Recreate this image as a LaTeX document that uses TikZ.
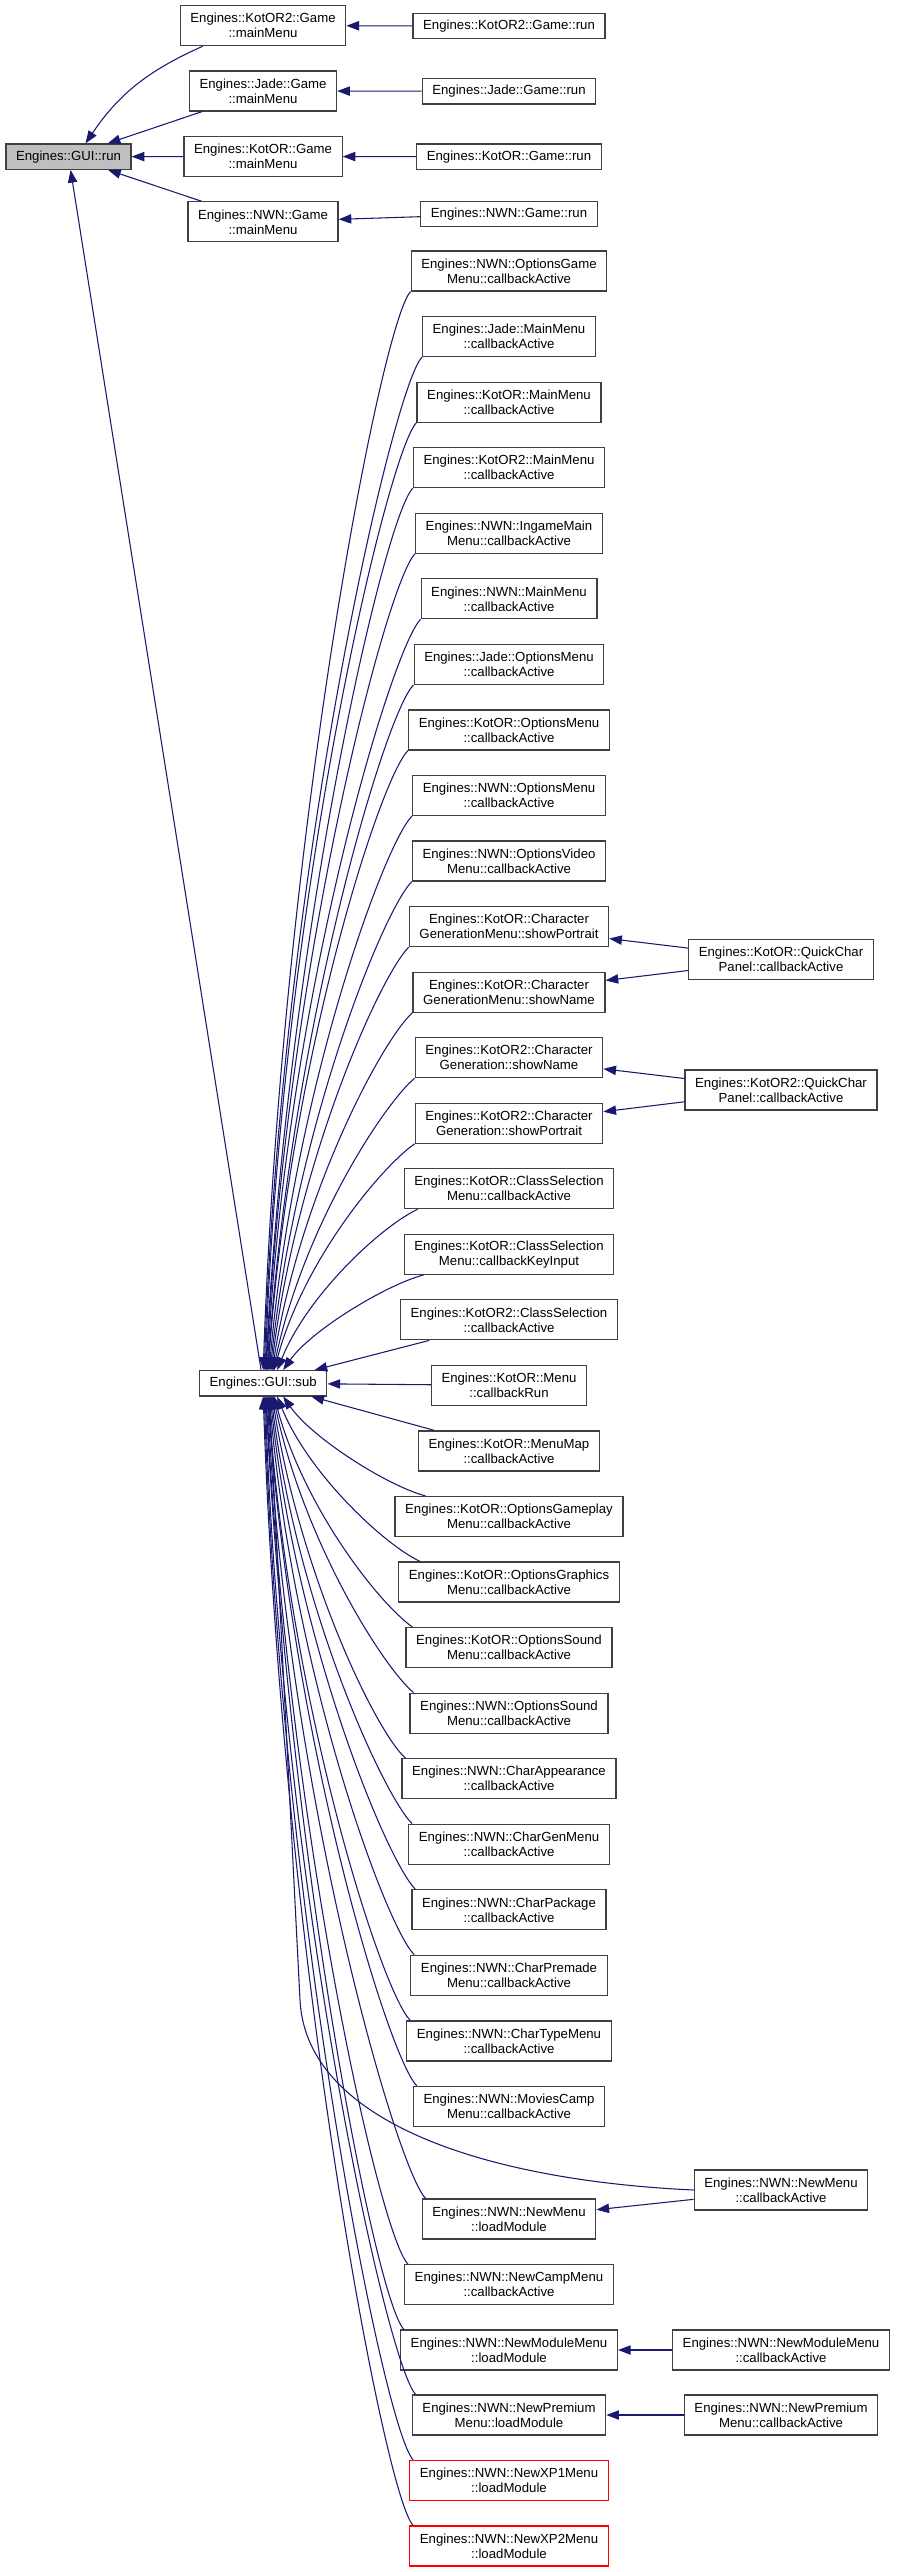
\documentclass[tikz,border=0pt]{standalone}
\usepackage{fontspec}
\setmainfont{Liberation Sans}
\usetikzlibrary{calc,arrows.meta}
\definecolor{edgeblue}{HTML}{191970}
\definecolor{boxgray}{HTML}{404040}
\definecolor{rungray}{HTML}{BFBFBF}

\begin{document}
\begin{tikzpicture}[x=0.75pt,y=0.75pt,
    fn/.style={draw=boxgray,line width=0.9pt,fill=white,align=center,inner xsep=7.6pt,inner ysep=2pt,minimum height=30pt,font=\fontsize{9.9}{11.25}\selectfont},
    fnone/.style={fn,minimum height=19pt},
    fncut/.style={fn,draw=red},
    calls/.style={draw=edgeblue,line width=0.8pt,-{Triangle[length=9.5pt,width=7pt]}}]

    \useasboundingbox (0,0) rectangle (896,-2572);

    % GUI::run and the game main menus
    \node[fnone,fill=rungray] (guirun) at (68.5,-156.7) {Engines::GUI::run};
    \node[fn] (k2main) at (263,-25.7) {Engines::KotOR2::Game\\::mainMenu};
    \node[fn] (jademain) at (263,-91) {Engines::Jade::Game\\::mainMenu};
    \node[fn] (kmain) at (263,-156.5) {Engines::KotOR::Game\\::mainMenu};
    \node[fn] (nwnmain) at (263,-221.8) {Engines::NWN::Game\\::mainMenu};
    \node[fnone] (k2run) at (509,-26) {Engines::KotOR2::Game::run};
    \node[fnone] (jaderun) at (509,-91.3) {Engines::Jade::Game::run};
    \node[fnone] (krun) at (509,-156.7) {Engines::KotOR::Game::run};
    \node[fnone] (nwnrun) at (509,-213.8) {Engines::NWN::Game::run};

    % GUI::sub
    \node[fnone] (guisub) at (263.2,-1383.3) {Engines::GUI::sub};

    % Callers of GUI::sub
    \node[fn] (nwnoptgame) at (509,-271) {Engines::NWN::OptionsGame\\Menu::callbackActive};
    \node[fn] (jmainmenu) at (509,-336.6) {Engines::Jade::MainMenu\\::callbackActive};
    \node[fn] (kmainmenu) at (509,-402.1) {Engines::KotOR::MainMenu\\::callbackActive};
    \node[fn] (k2mainmenu) at (509,-467.7) {Engines::KotOR2::MainMenu\\::callbackActive};
    \node[fn] (nwningame) at (509,-533.2) {Engines::NWN::IngameMain\\Menu::callbackActive};
    \node[fn] (nwnmainmenu) at (509,-598.8) {Engines::NWN::MainMenu\\::callbackActive};
    \node[fn] (jopt) at (509,-664.3) {Engines::Jade::OptionsMenu\\::callbackActive};
    \node[fn] (kopt) at (509,-729.9) {Engines::KotOR::OptionsMenu\\::callbackActive};
    \node[fn] (nwnopt) at (509,-795.4) {Engines::NWN::OptionsMenu\\::callbackActive};
    \node[fn] (nwnvideo) at (509,-861) {Engines::NWN::OptionsVideo\\Menu::callbackActive};
    \node[fn] (kportrait) at (509,-926.5) {Engines::KotOR::Character\\GenerationMenu::showPortrait};
    \node[fn] (kname) at (509,-992.1) {Engines::KotOR::Character\\GenerationMenu::showName};
    \node[fn] (k2name) at (509,-1057.6) {Engines::KotOR2::Character\\Generation::showName};
    \node[fn] (k2portrait) at (509,-1123.2) {Engines::KotOR2::Character\\Generation::showPortrait};
    \node[fn] (kclassact) at (509,-1188.7) {Engines::KotOR::ClassSelection\\Menu::callbackActive};
    \node[fn] (kclasskey) at (509,-1254.3) {Engines::KotOR::ClassSelection\\Menu::callbackKeyInput};
    \node[fn] (k2class) at (509,-1319.8) {Engines::KotOR2::ClassSelection\\::callbackActive};
    \node[fn] (kmenu) at (509,-1385.4) {Engines::KotOR::Menu\\::callbackRun};
    \node[fn] (kmap) at (509,-1450.9) {Engines::KotOR::MenuMap\\::callbackActive};
    \node[fn] (kgameplay) at (509,-1516.5) {Engines::KotOR::OptionsGameplay\\Menu::callbackActive};
    \node[fn] (kgraphics) at (509,-1582) {Engines::KotOR::OptionsGraphics\\Menu::callbackActive};
    \node[fn] (ksound) at (509,-1647.6) {Engines::KotOR::OptionsSound\\Menu::callbackActive};
    \node[fn] (nwnsound) at (509,-1713.1) {Engines::NWN::OptionsSound\\Menu::callbackActive};
    \node[fn] (nwnappear) at (509,-1778.7) {Engines::NWN::CharAppearance\\::callbackActive};
    \node[fn] (nwngen) at (509,-1844.2) {Engines::NWN::CharGenMenu\\::callbackActive};
    \node[fn] (nwnpackage) at (509,-1909.8) {Engines::NWN::CharPackage\\::callbackActive};
    \node[fn] (nwnpremade) at (509,-1975.3) {Engines::NWN::CharPremade\\Menu::callbackActive};
    \node[fn] (nwntype) at (509,-2040.9) {Engines::NWN::CharTypeMenu\\::callbackActive};
    \node[fn] (nwnmovies) at (509,-2106.4) {Engines::NWN::MoviesCamp\\Menu::callbackActive};
    \node[fn] (nwnnewload) at (509,-2219) {Engines::NWN::NewMenu\\::loadModule};
    \node[fn] (nwncamp) at (509,-2284.7) {Engines::NWN::NewCampMenu\\::callbackActive};
    \node[fn] (nwnmodload) at (509,-2350) {Engines::NWN::NewModuleMenu\\::loadModule};
    \node[fn] (nwnpremload) at (509,-2415) {Engines::NWN::NewPremium\\Menu::loadModule};
    \node[fncut] (nwnxp1) at (509,-2480.3) {Engines::NWN::NewXP1Menu\\::loadModule};
    \node[fncut] (nwnxp2) at (509,-2546) {Engines::NWN::NewXP2Menu\\::loadModule};

    % Right column
    \node[fn] (kquick) at (781,-959.3) {Engines::KotOR::QuickChar\\Panel::callbackActive};
    \node[fn] (k2quick) at (781,-1090) {Engines::KotOR2::QuickChar\\Panel::callbackActive};
    \node[fn] (nwnnewact) at (781,-2190) {Engines::NWN::NewMenu\\::callbackActive};
    \node[fn] (nwnmodact) at (781,-2350) {Engines::NWN::NewModuleMenu\\::callbackActive};
    \node[fn] (nwnpremact) at (781,-2415) {Engines::NWN::NewPremium\\Menu::callbackActive};

    % Edges into GUI::run
    \draw[calls] ($(k2main.south west)+(23,0)$) to[out=204,in=56] ($(guirun.north)+(17,0)$);
    \draw[calls] (jademain) -- (guirun);
    \draw[calls] (kmain) -- (guirun);
    \draw[calls] (nwnmain) -- (guirun);
    \draw[calls] (guisub) -- (guirun);
    \draw[calls] (k2run) -- (k2main);
    \draw[calls] (jaderun) -- (jademain);
    \draw[calls] (krun) -- (kmain);
    \draw[calls] (nwnrun) -- (nwnmain);

    % Edges into GUI::sub from above
    \draw[calls] (nwnoptgame.south west) to[out=225,in=88,out distance=30pt,in distance=405pt] ($(guisub.north)+(0,0)$);
    \draw[calls] (jmainmenu.south west) to[out=225,in=88,out distance=30pt,in distance=380pt] ($(guisub.north)+(1,0)$);
    \draw[calls] (kmainmenu.south west) to[out=225,in=88,out distance=30pt,in distance=356pt] ($(guisub.north)+(2,0)$);
    \draw[calls] (k2mainmenu.south west) to[out=225,in=87,out distance=30pt,in distance=331pt] ($(guisub.north)+(2.5,0)$);
    \draw[calls] (nwningame.south west) to[out=225,in=87,out distance=30pt,in distance=307pt] ($(guisub.north)+(3,0)$);
    \draw[calls] (nwnmainmenu.south west) to[out=225,in=87,out distance=30pt,in distance=282pt] ($(guisub.north)+(4,0)$);
    \draw[calls] (jopt.south west) to[out=225,in=86,out distance=30pt,in distance=257pt] ($(guisub.north)+(4.5,0)$);
    \draw[calls] (kopt.south west) to[out=225,in=86,out distance=30pt,in distance=233pt] ($(guisub.north)+(5,0)$);
    \draw[calls] (nwnopt.south west) to[out=225,in=85,out distance=30pt,in distance=208pt] ($(guisub.north)+(6,0)$);
    \draw[calls] (nwnvideo.south west) to[out=225,in=84,out distance=30pt,in distance=184pt] ($(guisub.north)+(7,0)$);
    \draw[calls] (kportrait.south west) to[out=225,in=83,out distance=30pt,in distance=159pt] ($(guisub.north)+(8,0)$);
    \draw[calls] (kname.south west) to[out=222,in=81,out distance=30pt,in distance=135pt] ($(guisub.north)+(9,0)$);
    \draw[calls] (k2name.south west) to[out=220,in=78,out distance=30pt,in distance=110pt] ($(guisub.north)+(10,0)$);
    \draw[calls] (k2portrait.south west) to[out=215,in=75,out distance=30pt,in distance=86pt] ($(guisub.north)+(11,0)$);
    \draw[calls] ($(kclassact.south west)+(14,0)$) to[out=205,in=68,out distance=30pt,in distance=61pt] ($(guisub.north)+(14,0)$);
    \draw[calls] ($(kclasskey.south west)+(20,0)$) to[out=195,in=55,out distance=30pt,in distance=36pt] ($(guisub.north)+(20,0)$);

    % Straight edges next to GUI::sub
    \draw[calls] (k2class) -- (guisub);
    \draw[calls] (kmenu) -- (guisub);
    \draw[calls] (kmap) -- (guisub);

    % Edges into GUI::sub from below
    \draw[calls] ($(kgameplay.north west)+(31,0)$) to[out=165,in=-55,out distance=30pt,in distance=38pt] ($(guisub.south)+(20,0)$);
    \draw[calls] ($(kgraphics.north west)+(22,0)$) to[out=155,in=-68,out distance=30pt,in distance=62pt] ($(guisub.south)+(14,0)$);
    \draw[calls] ($(ksound.north west)+(7,0)$) to[out=145,in=-75,out distance=30pt,in distance=87pt] ($(guisub.south)+(11,0)$);
    \draw[calls] ($(nwnsound.north west)+(4,0)$) to[out=140,in=-78,out distance=30pt,in distance=111pt] ($(guisub.south)+(10,0)$);
    \draw[calls] ($(nwnappear.north west)+(4,0)$) to[out=138,in=-81,out distance=30pt,in distance=136pt] ($(guisub.south)+(9,0)$);
    \draw[calls] ($(nwngen.north west)+(4,0)$) to[out=135,in=-83,out distance=30pt,in distance=160pt] ($(guisub.south)+(8,0)$);
    \draw[calls] ($(nwnpackage.north west)+(4,0)$) to[out=135,in=-84,out distance=30pt,in distance=185pt] ($(guisub.south)+(7,0)$);
    \draw[calls] ($(nwnpremade.north west)+(4,0)$) to[out=135,in=-85,out distance=30pt,in distance=210pt] ($(guisub.south)+(6,0)$);
    \draw[calls] ($(nwntype.north west)+(4,0)$) to[out=135,in=-86,out distance=30pt,in distance=234pt] ($(guisub.south)+(5,0)$);
    \draw[calls] ($(nwnmovies.north west)+(4,0)$) to[out=135,in=-86,out distance=30pt,in distance=259pt] ($(guisub.south)+(4.5,0)$);
    \draw[calls] ($(nwnnewload.north west)+(4,0)$) to[out=135,in=-87,out distance=30pt,in distance=301pt] ($(guisub.south)+(4,0)$);
    \draw[calls] ($(nwncamp.north west)+(4,0)$) to[out=135,in=-87,out distance=30pt,in distance=326pt] ($(guisub.south)+(3,0)$);
    \draw[calls] ($(nwnmodload.north west)+(4,0)$) to[out=135,in=-87,out distance=30pt,in distance=350pt] ($(guisub.south)+(2.5,0)$);
    \draw[calls] ($(nwnpremload.north west)+(4,0)$) to[out=135,in=-88,out distance=30pt,in distance=375pt] ($(guisub.south)+(2,0)$);
    \draw[calls] ($(nwnxp1.north west)+(4,0)$) to[out=135,in=-88,out distance=30pt,in distance=399pt] ($(guisub.south)+(1,0)$);
    \draw[calls] ($(nwnxp2.north west)+(4,0)$) to[out=135,in=-88,out distance=30pt,in distance=424pt] ($(guisub.south)+(0,0)$);
    \draw[calls] (nwnnewact.west) .. controls (480,-2180) and (306,-2120) .. (300,-2000) -- ($(guisub.south)+(6,0)$);

    % Edges from the right column
    \draw[calls] (kquick) -- (kportrait);
    \draw[calls] (kquick) -- (kname);
    \draw[calls] (k2quick) -- (k2name);
    \draw[calls] (k2quick) -- (k2portrait);
    \draw[calls] (nwnnewact) -- (nwnnewload);
    \draw[calls] (nwnmodact) -- (nwnmodload);
    \draw[calls] (nwnpremact) -- (nwnpremload);

\end{tikzpicture}
\end{document}
